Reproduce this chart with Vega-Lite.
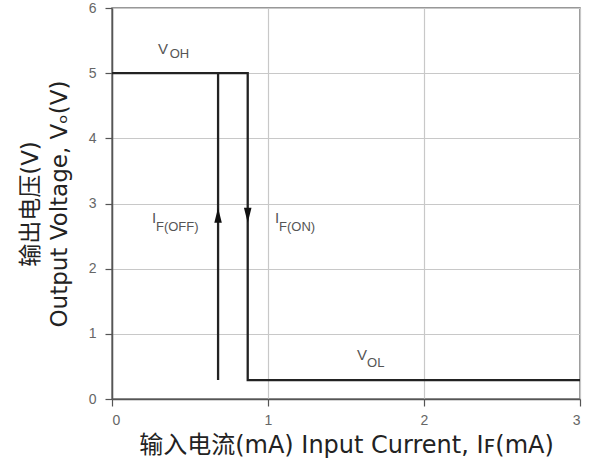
{
  "$schema": "https://vega.github.io/schema/vega-lite/v6.json",
  "width": 468,
  "height": 391,
  "autosize": "none",
  "padding": {"left": 112, "top": 8, "right": 9, "bottom": 66},
  "background": "white",
  "config": {
    "view": {"stroke": "#777", "strokeWidth": 1.5},
    "axis": {
      "labelFont": "Liberation Sans",
      "labelFontSize": 14,
      "labelColor": "#666",
      "tickColor": "#555",
      "tickSize": 7,
      "tickWidth": 1.2,
      "domainColor": "#555",
      "domainWidth": 1.5,
      "gridColor": "#c8c8c8",
      "gridWidth": 1.2,
      "titleFont": "DejaVu Sans, Noto Sans CJK SC",
      "titleFontWeight": "normal",
      "titleColor": "#222"
    }
  },
  "datasets": {
    "curve": [
      {"path": "on", "order": 1, "x": 0, "y": 5},
      {"path": "on", "order": 2, "x": 0.87, "y": 5},
      {"path": "on", "order": 3, "x": 0.87, "y": 0.29},
      {"path": "on", "order": 4, "x": 3, "y": 0.29},
      {"path": "off", "order": 1, "x": 0.68, "y": 0.29},
      {"path": "off", "order": 2, "x": 0.68, "y": 5}
    ],
    "arrows": [
      {"dir": "up", "x": 0.68, "y": 2.82},
      {"dir": "down", "x": 0.87, "y": 2.82}
    ],
    "labels": [
      {"role": "main", "text": "V", "x": 0.295, "y": 5.3},
      {"role": "sub", "text": "OH", "x": 0.37, "y": 5.24},
      {"role": "main", "text": "I", "x": 0.256, "y": 2.7},
      {"role": "sub", "text": "F(OFF)", "x": 0.282, "y": 2.575},
      {"role": "main", "text": "I", "x": 1.045, "y": 2.7},
      {"role": "sub", "text": "F(ON)", "x": 1.071, "y": 2.575},
      {"role": "main", "text": "V", "x": 1.57, "y": 0.6},
      {"role": "sub", "text": "OL", "x": 1.635, "y": 0.49}
    ]
  },
  "encoding": {
    "x": {
      "field": "x",
      "type": "quantitative",
      "scale": {"domain": [0, 3], "nice": false},
      "axis": {
        "values": [0, 1, 2, 3],
        "format": "d",
        "labelPadding": 7,
        "title": "输入电流(mA)  Input Current, Iꜰ(mA)",
        "titleFontSize": 24,
        "titlePadding": 6
      }
    },
    "y": {
      "field": "y",
      "type": "quantitative",
      "scale": {"domain": [0, 6], "nice": false},
      "axis": {
        "values": [0, 1, 2, 3, 4, 5, 6],
        "format": "d",
        "labelPadding": 9,
        "title": ["输出电压(V)", "Output Voltage, Vₒ(V)"],
        "titleFontSize": 23,
        "titleLineHeight": 29,
        "titleX": -70,
        "titleBaseline": "bottom"
      }
    }
  },
  "layer": [
    {
      "data": {"name": "curve"},
      "mark": {"type": "line", "color": "#222", "strokeWidth": 2.3, "strokeJoin": "miter", "clip": false},
      "encoding": {
        "detail": {"field": "path"},
        "order": {"field": "order", "type": "quantitative"}
      }
    },
    {
      "data": {"name": "arrows"},
      "transform": [{"filter": "datum.dir === 'up'"}],
      "mark": {"type": "point", "shape": "M-0.5,1L0,-1L0.5,1Z", "filled": true, "color": "#111", "opacity": 1, "size": 225, "strokeWidth": 0}
    },
    {
      "data": {"name": "arrows"},
      "transform": [{"filter": "datum.dir === 'down'"}],
      "mark": {"type": "point", "shape": "M-0.5,-1L0,1L0.5,-1Z", "filled": true, "color": "#111", "opacity": 1, "size": 225, "strokeWidth": 0}
    },
    {
      "data": {"name": "labels"},
      "transform": [{"filter": "datum.role === 'main'"}],
      "mark": {"type": "text", "align": "left", "baseline": "alphabetic", "font": "Liberation Sans", "fontSize": 15, "color": "#555"},
      "encoding": {"text": {"field": "text"}}
    },
    {
      "data": {"name": "labels"},
      "transform": [{"filter": "datum.role === 'sub'"}],
      "mark": {"type": "text", "align": "left", "baseline": "alphabetic", "font": "Liberation Sans", "fontSize": 13, "color": "#555"},
      "encoding": {"text": {"field": "text"}}
    }
  ]
}
